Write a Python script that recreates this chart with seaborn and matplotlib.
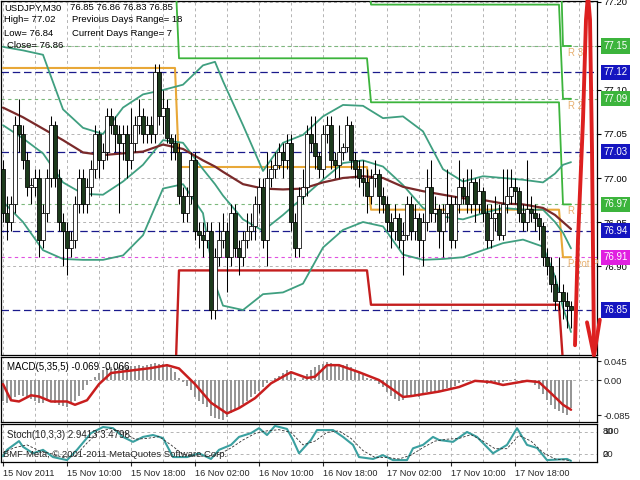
import matplotlib
matplotlib.use("Agg")
import matplotlib.pyplot as plt
import matplotlib.transforms as mtransforms
import numpy as np
import pandas as pd
import seaborn as sns

# USDJPY M30, prices kept in pips above BASE
BASE = 76.80
first_open = 21
close_pips = [16, 15, 17, 26, 25, 22, 19, 19, 20, 13,
              16, 20, 26, 20, 15, 14, 12, 13, 17, 20,
              17, 19, 21, 25, 22, 23, 27, 26, 25, 24,
              25, 22, 24, 26, 27, 25, 26, 25, 32, 27,
              28, 24.5, 24, 23, 18, 16, 18, 22, 14, 13.5,
              13, 14, 5, 11, 13, 14, 11, 16, 12, 11,
              13, 14, 14.5, 17, 19, 13, 20, 21, 21.5, 23,
              22, 24, 15, 12, 18, 19, 25, 24, 22.5, 21,
              25, 26, 22, 21.5, 23, 23.5, 26, 22, 21, 20,
              19.5, 18, 20, 20.5, 18, 17, 15, 14, 15.5, 13,
              13.5, 17, 14, 15.5, 13, 15, 19, 16, 16.5, 14,
              16, 17, 13, 17, 19, 18, 17, 19.5, 17, 18.5,
              16, 13, 15.5, 16, 13.5, 17, 18, 19, 18.5, 16,
              15, 16.5, 16, 15.5, 14.5, 11, 10, 8, 6, 7,
              6, 5.5, 5]
high_pips = [22, 18, 18, 27, 29, 26, 23, 20, 21, 21,
             17, 21, 27, 26.5, 21, 16, 15, 14, 18, 21,
             21, 20, 22, 26, 25.5, 24, 28, 28, 27, 26,
             26, 26, 28, 27, 29, 28, 27, 27, 33, 33,
             30, 29, 25, 25, 24, 19, 19, 23, 23, 15,
             15, 15, 15, 12, 15, 16, 15, 17, 17, 13,
             14, 16, 16, 18, 20, 20, 23, 22, 23, 24,
             24, 25, 25, 16, 19, 21, 26, 27, 27, 23,
             26, 27, 27, 23, 26, 24, 27, 26.5, 23, 22,
             22, 21, 21, 22, 21, 19, 18, 16, 17, 16,
             15, 18, 18, 17, 16, 16, 21, 22, 18, 17,
             17, 21, 18, 18, 22, 20, 21, 21, 20, 20,
             19, 17, 17, 18, 17, 21, 21, 21, 20, 19,
             17, 22, 18, 17, 16, 15, 12, 11, 9, 11,
             8, 7, 6]
low_pips = [15, 13, 14, 16, 23, 21, 18, 17, 18, 11,
            12, 15, 19, 19, 14, 10, 9, 11, 12, 16,
            16, 16, 18, 20, 20, 21, 22, 25, 23, 16,
            22, 20, 21, 23, 25, 24, 24, 24, 24, 26,
            25, 24, 22, 22, 17, 15, 15, 17, 13, 12,
            11, 12, 4, 4, 10, 12, 7, 10, 11, 9,
            10, 12, 13, 13, 16, 12, 10, 19, 20, 21,
            20, 21, 14, 11, 11, 17, 18, 23, 21, 20,
            20, 24, 21, 20, 20, 22, 23, 21, 20, 19,
            18, 16, 17, 19, 16, 16, 14, 12, 13, 12,
            9, 13, 13, 13, 11, 10, 14, 15, 15, 12,
            11, 15, 12, 12, 16, 17, 16, 16, 15, 16,
            15, 12, 12, 14, 13, 13, 16, 17, 17, 15,
            14, 14, 15, 14, 13, 10, 9, 7, 5, 5,
            4, 3, 3]

# bands and slow moving average, sampled along the bars
band_idx = [0, 5, 10, 15, 20, 25, 30, 35, 40, 45, 50, 53, 55, 60, 65, 70,
            75, 80, 85, 90, 95, 100, 105, 110, 115, 120, 125, 130, 135, 138, 140, 142]
band_upper = [34.9, 34.5, 34.0, 27.8, 25.7, 25.0, 28.0, 29.5, 30.0, 30.6, 32.8, 33.2,
              31.0, 26.0, 20.8, 24.0, 24.9, 27.0, 28.3, 28.2, 26.8, 27.0, 25.3, 21.0,
              19.6, 20.2, 20.0, 19.8, 19.5, 20.5, 21.5, 21.8]
band_mid = [26.0, 24.5, 22.8, 19.5, 18.2, 18.1, 19.6, 21.5, 24.3, 24.0, 21.0, 19.3,
            18.0, 15.3, 14.0, 15.8, 17.8, 19.8, 21.7, 22.0, 21.3, 19.2, 16.6, 15.6,
            15.3, 16.0, 16.6, 16.4, 16.4, 15.0, 13.8, 12.0]
band_lower = [17.3, 15.0, 11.8, 10.8, 10.7, 10.7, 11.2, 13.5, 18.8, 19.3, 16.0, 8.0,
              5.5, 5.0, 6.8, 7.0, 8.0, 12.1, 14.1, 15.0, 14.5, 11.3, 10.7, 10.8,
              11.0, 11.8, 12.6, 13.0, 12.2, 8.8, 5.3, 2.5]
ma_slow = [28.0, 26.9, 25.6, 24.3, 22.9, 22.6, 22.8, 23.0, 23.8, 23.3, 22.0, 21.3,
           20.7, 19.3, 18.8, 18.7, 18.8, 19.5, 20.0, 20.2, 20.0, 19.0, 18.5, 18.1,
           17.7, 17.5, 17.1, 17.0, 16.6, 15.8, 15.0, 14.2]

# daily pivot levels in pips (15, 16, 17, 18 Nov)
pivot_p = [32.5, 21.25, 16.4, 11.0]
pivot_r1 = [44.0, 33.6, 28.6, 17.0]
pivot_r2 = [52.0, 45.0, 39.7, 29.0]
pivot_r3 = [60.0, 56.0, 51.0, 35.0]
pivot_s1 = [-4.0, 9.5, 5.6, -1.0]
blue_levels = [77.12, 77.03, 76.94, 76.85]

# MACD(5,35,5) histogram per bar and signal samples, in thousandths
macd_hist = [-52, -55, -50, -40, -36, -38, -42, -45, -50, -55,
             -55, -50, -48, -55, -60, -62, -65, -58, -50, -38,
             -25, -12, -2, 8, 18, 25, 30, 32, 30, 32,
             34, 32, 33, 35, 36, 35, 36, 38, 42, 40,
             38, 36, 30, 20, 5, -5, -15, -25, -40, -50,
             -58, -65, -88, -92, -95, -96, -90, -80, -72, -65,
             -58, -50, -42, -34, -26, -18, -8, 0, 5, 10,
             18, 24, 20, 5, 0, 5, 15, 25, 32, 36,
             40, 44, 42, 40, 38, 36, 38, 32, 25, 18,
             12, 6, 2, -3, -10, -18, -28, -38, -45, -50,
             -48, -40, -42, -38, -40, -35, -30, -32, -28, -30,
             -25, -20, -20, -14, -8, -4, -3, 0, -2, 0,
             -4, -10, -8, -9, -10, -5, -2, 0, 2, -1,
             -3, -2, -5, -12, -22, -35, -48, -60, -70, -76,
             -80, -85, -69]
sig_idx = [0, 2, 4, 7, 9, 12, 16, 18, 21, 24, 27, 32, 37, 41, 44, 48, 52, 56, 59, 63,
           67, 72, 76, 78, 81, 84, 89, 94, 97, 100, 102, 109, 114, 118, 122, 125, 131,
           134, 137, 140, 142]
sig_val = [-10, -49, -52, -37, -40, -52, -52, -60, -49, -10, 17, 23, 29, 36, 28, -10,
           -55, -81, -68, -44, -8, 19, 5, 8, 36, 36, 19, 0, -20, -41, -39, -28, -17,
           -2, -5, -12, -2, -5, -32, -60, -72]

# Stochastic(10,3,3)
stoch_idx = [0, 1, 4, 5, 7.5, 10, 12.5, 16, 18.5, 22, 25, 27.5, 30, 32.5, 35, 37.5, 40,
             42.5, 46, 49, 52, 54, 57, 59, 62, 64, 66, 68, 71, 72.5, 74, 77, 78.5, 81,
             82.5, 85, 87.5, 89, 92.5, 95, 97.5, 101, 102.5, 105, 107.5, 109, 112.5,
             116, 118.5, 122.5, 126, 128.5, 131, 133.5, 136, 141, 142]
stoch_k = [15, 32, 55, 40, 23, 32, 13, 5, 32, 76, 92, 89, 66, 53, 66, 71, 63, 13, 13,
           23, 8, 32, 45, 66, 76, 89, 71, 95, 87, 58, 23, 58, 84, 84, 84, 66, 45, 13,
           8, 18, 5, 5, 36, 45, 66, 58, 53, 79, 66, 23, 45, 89, 45, 37, 5, 8, 3]
stoch_d_idx = [0, 3, 6, 9, 12, 15, 18, 21, 24, 27, 30, 33, 36, 39, 42, 45, 48, 51, 54,
               57, 60, 63, 66, 69, 72, 75, 78, 81, 84, 87, 90, 93, 96, 99, 102, 105,
               108, 111, 114, 117, 120, 123, 126, 129, 132, 135, 138, 142]
stoch_d = [25, 38, 45, 30, 22, 12, 15, 50, 80, 88, 78, 60, 62, 67, 45, 20, 16, 15, 20,
           37, 58, 75, 82, 85, 78, 45, 55, 78, 82, 62, 30, 12, 12, 8, 18, 38, 55, 60,
           62, 72, 55, 35, 35, 70, 55, 25, 8, 3.5]

# hand-drawn red arrow on the right edge (bar index, pips)
arrow_i = [143.0, 143.75, 145.0, 145.75, 146.25, 146.75, 147.25, 147.5, 147.75]
arrow_v = [1.0, 13.0, 26.6, 38.0, 40.8, 38.0, 23.2, 11.8, 0.45]
head_i = [146.0, 147.75, 149.2]
head_v = [3.6, -0.2, 3.9]


def px(a):
    return BASE + np.asarray(a, dtype=float) / 100.0


sns.set_theme(style="white")
plt.rcParams['font.family'] = ['Liberation Sans', 'DejaVu Sans']
plt.rcParams['axes.edgecolor'] = 'black'
plt.rcParams['axes.linewidth'] = 0.9

W, H = 640, 480


def box(x0, y0, x1, y1):
    return [x0 / W, 1 - y1 / H, (x1 - x0) / W, (y1 - y0) / H]


fig = plt.figure(figsize=(6.4, 4.8), dpi=100, facecolor='white')
ax = fig.add_axes(box(1, 1, 597, 355))
axm = fig.add_axes(box(1, 356.5, 597, 421.7), sharex=ax)
axs = fig.add_axes(box(1, 424, 597, 462), sharex=ax)

n = len(close_pips)
idx = np.arange(n)
times = pd.date_range("2011-11-15 02:00", periods=n, freq="30min")

GRID = dict(color='#b4b4b4', lw=0.7, dashes=(3, 3), zorder=0)
for a in (ax, axm, axs):
    for g in range(0, 149, 8):
        a.axvline(g, **GRID)

# ---- main price panel ----
yt = [76.90, 76.95, 77.00, 77.05, 77.10, 77.15, 77.20]
for t in yt:
    ax.axhline(t, **GRID)

for lv in blue_levels:
    ax.axhline(lv, color='#1a1a8c', lw=0.9, dashes=(6, 3), zorder=1)
for lv in (pivot_r3[-1], pivot_r2[-1], pivot_r1[-1]):
    ax.axhline(px(lv), color='#7cb87c', lw=0.8, dashes=(3, 3), zorder=1)
ax.axhline(px(pivot_p[-1]), color='#e050e0', lw=0.8, dashes=(3, 3), zorder=1)

# daily pivot step lines
day_start = [0] + [i for i in range(1, n) if times[i].hour == 0 and times[i].minute == 0]
day_end = [s - 1 for s in day_start[1:]] + [n - 1]


def steps(levels):
    xs, ys = [], []
    for s, e, v in zip(day_start, day_end, levels):
        xs += [s, e]
        ys += [v, v]
    return xs, px(ys)


for levels, col, lw in ((pivot_r3, '#3cb43c', 1.3), (pivot_r2, '#3cb43c', 1.3),
                        (pivot_r1, '#3cb43c', 1.3), (pivot_p, '#e8a838', 1.5),
                        (pivot_s1, '#c41e1e', 1.7)):
    xs, ys = steps(levels)
    sns.lineplot(x=xs, y=ys, ax=ax, color=col, lw=lw, sort=False, zorder=3)

# bands + slow MA
for vals in (band_upper, band_mid, band_lower):
    sns.lineplot(x=band_idx, y=px(vals), ax=ax, color='#3f9f80', lw=1.3, zorder=3)
sns.lineplot(x=band_idx, y=px(ma_slow), ax=ax, color='#7a2a2a', lw=1.6, zorder=3)

# candles
c = np.array(close_pips, float)
o = np.concatenate([[first_open], c[:-1]])
hi = np.array(high_pips, float)
lo = np.array(low_pips, float)
up = c >= o
ax.vlines(idx, px(lo), px(hi), color='black', lw=0.75, zorder=4)
body_h = np.maximum(np.abs(c - o), 0.15) / 100.0
ax.bar(idx, body_h, bottom=px(np.minimum(o, c)), width=0.8,
       color=np.where(up, 'white', '#1c3a1c'), edgecolor='black', linewidth=0.55, zorder=5)

# level labels inside the chart
for lv, name in ((pivot_r3[-1], 'R 3'), (pivot_r2[-1], 'R 2'),
                 (pivot_r1[-1], 'R 1'), (pivot_p[-1], 'Pivot P')):
    ax.text(141.2, px(lv) - 0.002, name, color='#e8b070', fontsize=7,
            va='top', ha='left', zorder=6)

# hand-drawn arrow
ax.plot(arrow_i, px(arrow_v), color='#dd2020', lw=2.8, solid_capstyle='round',
        solid_joinstyle='round', clip_on=False, zorder=8)
ax.plot(head_i, px(head_v), color='#dd2020', lw=2.8, solid_capstyle='round',
        solid_joinstyle='round', clip_on=False, zorder=8)

ax.set_xlim(-0.5, 148.5)
ax.set_ylim(px(-0.11), px(40.11))
ax.yaxis.tick_right()
ax.set_yticks(yt)
# 77.15 sits under its coloured level tag, as in the terminal
ax.set_yticklabels(['' if abs(t - 77.15) < 1e-6 else '%.2f' % t for t in yt])
ax.tick_params(axis='y', labelsize=6.8, length=3, width=0.8, pad=2, colors='black')
ax.tick_params(axis='x', bottom=False, labelbottom=False)
ax.set_xlabel('')
ax.set_ylabel('')

tr = mtransforms.blended_transform_factory(ax.transAxes, ax.transData)
tag_levels = [(pivot_r3[-1], '#3cb43c'), (32, '#1515c0'), (pivot_r2[-1], '#3cb43c'),
              (23, '#1515c0'), (pivot_r1[-1], '#3cb43c'), (14, '#1515c0'),
              (pivot_p[-1], '#e020e0'), (5, '#1515c0')]
for lv, col in tag_levels:
    ax.text(1.011, px(lv), '%.2f' % px(lv), transform=tr, color='white', fontsize=7,
            va='center', ha='left', clip_on=False, zorder=9,
            bbox=dict(facecolor=col, edgecolor='none', pad=1.8))

# ---- MACD panel ----
axm.axhline(0, **GRID)
axm.bar(idx, np.array(macd_hist) / 1000.0, width=0.55, color='#969696', linewidth=0, zorder=2)
sns.lineplot(x=sig_idx, y=np.array(sig_val) / 1000.0, ax=axm, color='#c81e1e', lw=1.8, zorder=3)
axm.set_ylim(-0.101, 0.057)
axm.yaxis.tick_right()
axm.set_yticks([0.045, 0.0, -0.085])
axm.set_yticklabels(['0.045', '0.00', '-0.085'])
axm.tick_params(axis='y', labelsize=6.8, length=3, width=0.8, pad=2)
axm.tick_params(axis='x', bottom=False, labelbottom=False)
axm.set_xlabel('')
axm.set_ylabel('')
axm.text(0.01, 0.84, 'MACD(5,35,5) -0.069 -0.066', transform=axm.transAxes,
         fontsize=7, va='center', ha='left', color='black')

# ---- Stochastic panel ----
axs.axhline(80, **GRID)
axs.axhline(20, **GRID)
sns.lineplot(x=stoch_idx, y=stoch_k, ax=axs, color='#3aa0a0', lw=1.5, zorder=3)
axs.plot(stoch_d_idx, stoch_d, color='#303030', lw=0.6, dashes=(3, 2), zorder=3)
axs.set_ylim(0, 100)
axs.set_yticks([])
trs = mtransforms.blended_transform_factory(axs.transAxes, axs.transData)
# the terminal prints the 100/80 and 20/0 scale labels on top of each other
for val, lab in ((81, '100'), (81, '80'), (21, '20'), (21, '0')):
    axs.text(1.01, val, lab, transform=trs, fontsize=6.8, va='center', ha='left',
             clip_on=False)
axs.text(0.01, 0.72, 'Stoch(10,3,3) 2.9413 3.4798', transform=axs.transAxes,
         fontsize=7, va='center', ha='left')
axs.text(0.004, 0.2, 'BMF-Meta, \u00a9 2001-2011 MetaQuotes Software Corp.',
         transform=axs.transAxes, fontsize=6.8, va='center', ha='left')

tick_pos = list(range(0, n, 16))
tick_lab = ['15 Nov 2011' if k == 0 else times[k].strftime('%d %b %H:%M') for k in tick_pos]
axs.set_xticks(tick_pos)
axs.set_xticklabels(tick_lab)
axs.tick_params(axis='x', labelsize=6.6, length=3, width=0.8, pad=2, bottom=True)
for lab in axs.get_xticklabels():
    lab.set_horizontalalignment('left')
axs.set_xlim(-0.5, 148.5)
axs.set_xlabel('')
axs.set_ylabel('')


# ---- header text ----
def ftext(x, y, s):
    fig.text(x / W, 1 - y / H, s, fontsize=6.8, va='center', ha='left', color='black', zorder=10)


ftext(4, 8, 'USDJPY,M30')
ftext(70, 8, '76.85 76.86 76.83 76.85')
ftext(4, 20, 'High= 77.02')
ftext(72, 20, 'Previous Days Range= 18')
ftext(4, 33, 'Low= 76.84')
ftext(72, 33, 'Current Days Range= 7')
ftext(7, 45, 'Close= 76.86')

fig.savefig('out.png', dpi=100, facecolor='white')
